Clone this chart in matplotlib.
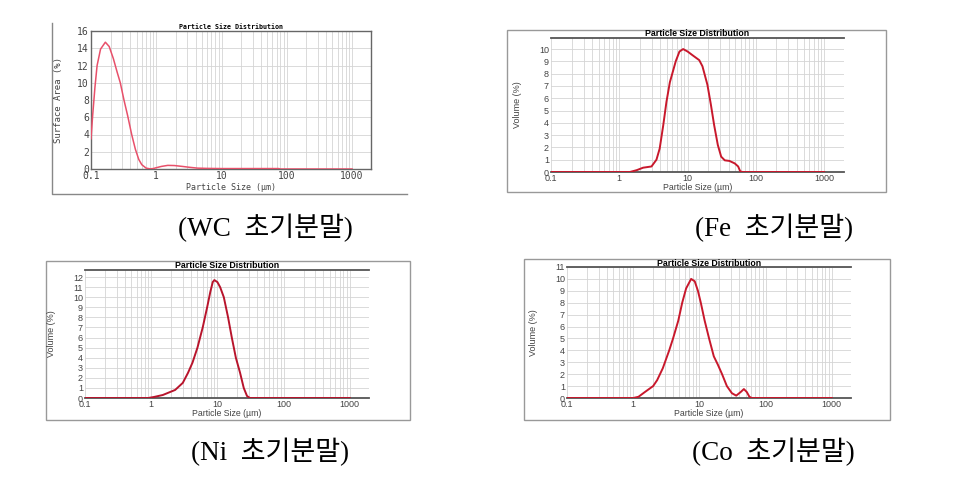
import matplotlib
matplotlib.use("Agg")
import matplotlib.pyplot as plt
from matplotlib.lines import Line2D
from matplotlib.patches import Rectangle

# particle size distributions
wc_size = [0.1, 0.106, 0.115, 0.124, 0.14, 0.166, 0.19, 0.22, 0.25, 0.281, 0.32, 0.364, 0.42,
           0.478, 0.54, 0.6, 0.7, 0.8, 0.9, 1.0, 1.2, 1.5, 1.9, 2.5, 3.2, 4.3, 6, 10, 30, 75, 80, 1000]
wc_area = [3.5, 6.2, 9.5, 12.0, 13.9, 14.7, 14.2, 12.8, 11.3, 10.0, 8.0, 6.2, 4.0,
           2.3, 1.1, 0.5, 0.1, 0.02, 0.05, 0.15, 0.3, 0.42, 0.4, 0.3, 0.2, 0.1, 0.07, 0.05, 0.05, 0.05, 0.0, 0.0]

fe_size = [0.1, 1.43, 1.8, 2.23, 2.96, 3.5, 3.9, 4.4, 4.9, 5.5, 6.7, 7.6, 8.6, 10, 11.8, 14.8, 16.5,
           19.5, 21.9, 24.5, 27.7, 31, 35, 41, 49, 55, 59, 64, 1000]
fe_vol = [0.0, 0.0, 0.15, 0.35, 0.45, 1.0, 1.9, 3.8, 5.7, 7.3, 9.0, 9.8, 10.0, 9.8, 9.5, 9.1, 8.6,
          7.1, 5.5, 3.8, 2.2, 1.25, 0.95, 0.9, 0.7, 0.45, 0.05, 0.0, 0.0]

ni_size = [0.1, 0.9, 1.1, 1.5, 2.3, 3.0, 3.6, 4.2, 5.0, 6.0, 7.0, 7.8, 8.5, 9.0, 10, 11, 12.5,
           14.5, 16.5, 19, 22, 25, 28, 31, 1000]
ni_vol = [0.0, 0.0, 0.1, 0.3, 0.8, 1.5, 2.5, 3.5, 5.0, 7.0, 9.0, 10.5, 11.5, 11.7, 11.5, 11.0, 10.0,
          8.0, 6.0, 4.0, 2.5, 1.0, 0.2, 0.0, 0.0]

co_size = [0.1, 1.0, 1.2, 1.5, 2.0, 2.3, 2.8, 3.5, 4.0, 4.8, 5.5, 6.3, 7.5, 8.5, 9.5, 10.5, 12,
           14, 16.5, 19, 22, 26, 31, 36, 42, 47, 52, 57, 62, 1000]
co_vol = [0.0, 0.0, 0.1, 0.5, 1.0, 1.5, 2.5, 4.0, 5.0, 6.5, 8.0, 9.2, 10.0, 9.8, 9.0, 8.0, 6.5,
          5.0, 3.5, 2.8, 2.0, 1.0, 0.4, 0.2, 0.5, 0.75, 0.5, 0.1, 0.0, 0.0]

xticks = [0.1, 1, 10, 100, 1000]
xtick_labels = ["0.1", "1", "10", "100", "1000"]
captions = ["(WC  초기분말)", "(Fe  초기분말)", "(Ni  초기분말)", "(Co  초기분말)"]

W, H = 955, 497
fig = plt.figure(figsize=(W / 100, H / 100), dpi=100)


def fx(x):
    return x / W


def fy(y):
    return 1 - y / H


def panel(box, x, y, ylim, ystep, ylabel, color, mono=False):
    l, t, r, b = box
    ax = fig.add_axes([fx(l), fy(b), fx(r - l), (b - t) / H])
    ax.semilogx(x, y, color=color, lw=1.4 if not mono else 1.1, zorder=3)
    ax.set_xlim(0.1, 1950)
    ax.set_ylim(0, ylim)
    ax.set_yticks(range(0, int(ylim) + 1, ystep))
    ax.set_xticks(xticks)
    ax.set_xticklabels(xtick_labels)
    ax.minorticks_on()
    ax.grid(True, which="both", axis="x", color="#d4d4d4", lw=0.6)
    ax.grid(True, which="major", axis="y", color="#d4d4d4", lw=0.6)
    ax.tick_params(which="both", length=0, pad=1.5, labelsize=7 if mono else 6.5, colors="#444")
    ax.yaxis.set_minor_locator(matplotlib.ticker.NullLocator())
    fam = "DejaVu Sans Mono" if mono else "Liberation Sans"
    for lab in ax.get_xticklabels() + ax.get_yticklabels():
        lab.set_family(fam)
    if mono:
        for s in ax.spines.values():
            s.set_color("#666")
            s.set_linewidth(1.0)
    else:
        ax.spines["left"].set_visible(False)
        ax.spines["right"].set_visible(False)
        for s in ("top", "bottom"):
            ax.spines[s].set_color("#555")
            ax.spines[s].set_linewidth(1.3)
    cx = (l + r) / 2
    # title, axis labels as figure text in pixel positions
    if mono:
        fig.text(fx(cx), fy(t - 4), "Particle Size Distribution", family="DejaVu Sans Mono",
                 weight="bold", fontsize=4.8, ha="center", va="center")
        fig.text(fx(cx), fy(b + 19), "Particle Size (\u00b5m)", family="DejaVu Sans Mono",
                 fontsize=6, ha="center", va="center", color="#444")
        fig.text(fx(l - 33), fy((t + b) / 2), ylabel, family="DejaVu Sans Mono",
                 fontsize=6.5, ha="center", va="center", rotation=90, color="#444")
    else:
        fig.text(fx(cx), fy(t - 4), "Particle Size Distribution", family="Liberation Sans",
                 weight="bold", fontsize=6.3, ha="center", va="center")
        fig.text(fx(cx), fy(b + 15), "Particle Size (\u00b5m)", family="Liberation Sans",
                 fontsize=6.3, ha="center", va="center", color="#444")
        fig.text(fx(l - 34), fy((t + b) / 2), ylabel, family="Liberation Sans",
                 fontsize=6.5, ha="center", va="center", rotation=90, color="#444")
    return ax


panel((91, 31, 371, 169), wc_size, wc_area, 16, 2, "Surface Area (%)", "#e8506a", mono=True)
panel((551, 38, 844, 172), fe_size, fe_vol, 10.9, 1, "Volume (%)", "#c8182c")
panel((85, 270, 369, 398), ni_size, ni_vol, 12.7, 1, "Volume (%)", "#b8142c")
panel((567, 267, 851, 398), co_size, co_vol, 11, 1, "Volume (%)", "#c8182c")

# outer frames of the scanned panels
fig.add_artist(Line2D([fx(52), fx(52), fx(407)], [fy(23), fy(194), fy(194)], color="#888", lw=1.0))
for l, t, r, b in [(507, 30, 886, 192), (46, 261, 410, 420), (524, 259, 890, 420)]:
    fig.add_artist(Rectangle((fx(l), fy(b)), fx(r - l), (b - t) / H, fill=False,
                             edgecolor="#999", lw=1.0))

# captions under each chart
cap_pos = [(265, 228), (774, 228), (270, 452), (773, 452)]
for txt, (cx, cy) in zip(captions, cap_pos):
    fig.text(fx(cx), fy(cy), txt, family=["Liberation Serif", "Noto Sans CJK KR"],
             fontsize=19.5, weight="light", ha="center", va="center")

fig.savefig("out.png", dpi=100)
